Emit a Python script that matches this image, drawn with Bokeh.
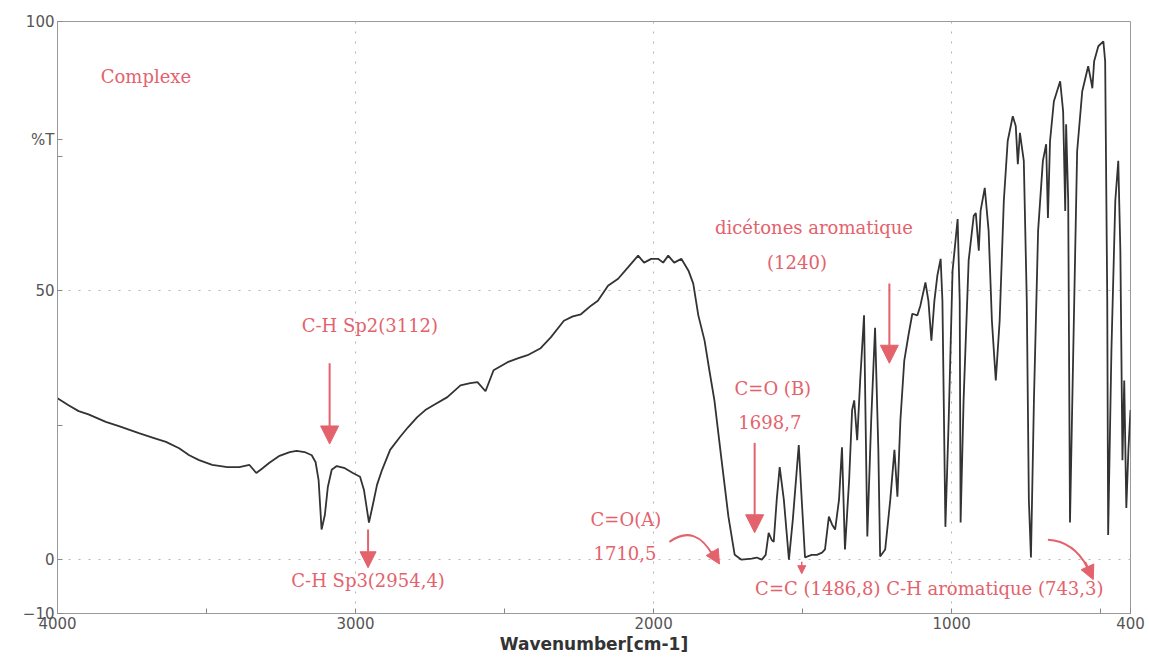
from bokeh.plotting import figure
from bokeh.models import Range1d, FixedTicker, Label, Arrow, NormalHead, ColumnDataSource
from bokeh.embed import file_html
from bokeh.resources import INLINE

# ---------------- data ----------------
wavenumber = [4000, 3963, 3929, 3896, 3838, 3794, 3727, 3676, 3636, 3592,
              3558, 3525, 3481, 3430, 3390, 3356, 3333, 3312, 3289, 3255,
              3221, 3198, 3171, 3147, 3134, 3124, 3114, 3103, 3093, 3080,
              3063, 3036, 3009, 2985, 2972, 2955, 2942, 2928, 2911, 2884,
              2851, 2824, 2793, 2766, 2739, 2692, 2648, 2615, 2591, 2564,
              2537, 2490, 2456, 2423, 2379, 2345, 2301, 2271, 2244, 2210,
              2187, 2153, 2119, 2086, 2052, 2032, 2008, 1985, 1968, 1951,
              1931, 1907, 1883, 1867, 1850, 1829, 1813, 1796, 1772, 1749,
              1728, 1705, 1671, 1654, 1637, 1624, 1614, 1604, 1597, 1587,
              1577, 1563, 1546, 1533, 1513, 1503, 1492, 1479, 1469, 1452,
              1435, 1425, 1412, 1401, 1391, 1378, 1368, 1358, 1344, 1334,
              1327, 1317, 1307, 1294, 1283, 1270, 1257, 1246, 1240, 1223,
              1206, 1192, 1182, 1172, 1159, 1145, 1132, 1115, 1105, 1088,
              1078, 1068, 1058, 1048, 1037, 1031, 1021, 1010, 997, 980,
              973, 970, 960, 943, 926, 919, 909, 903, 889, 876,
              865, 852, 839, 825, 812, 795, 785, 778, 771, 758,
              748, 741, 734, 724, 710, 694, 683, 677, 670, 657,
              636, 626, 619, 616, 609, 603, 592, 579, 562, 542,
              532, 528, 522, 508, 491, 485, 478, 475, 464, 451,
              441, 434, 427, 421, 414, 407, 400]
transmittance = [30.0, 28.7, 27.6, 27.0, 25.6, 24.8, 23.5, 22.6, 21.9, 20.7,
                 19.4, 18.5, 17.6, 17.2, 17.2, 17.6, 16.1, 17.0, 18.0, 19.3,
                 20.0, 20.2, 20.0, 19.4, 18.1, 14.8, 5.6, 8.3, 13.5, 16.7,
                 17.4, 17.0, 16.1, 15.4, 13.0, 6.9, 10.2, 13.9, 16.7, 20.4,
                 22.8, 24.6, 26.5, 27.8, 28.7, 30.2, 32.4, 32.8, 33.0, 31.3,
                 35.2, 36.7, 37.4, 38.0, 39.3, 41.3, 44.4, 45.2, 45.6, 47.2,
                 48.1, 50.9, 52.2, 54.3, 56.5, 55.2, 55.9, 55.9, 55.2, 56.5,
                 55.2, 55.9, 53.7, 51.3, 45.4, 40.7, 35.2, 29.6, 18.5, 8.0,
                 0.9, 0.0, 0.2, 0.4, 0.0, 0.9, 5.0, 3.7, 3.3, 11.1,
                 17.2, 11.1, 0.0, 7.4, 21.3, 11.1, 0.4, 0.7, 0.9, 0.9,
                 1.3, 1.9, 8.0, 6.5, 5.6, 11.1, 20.9, 1.9, 14.8, 27.8,
                 29.6, 22.2, 33.3, 45.4, 4.3, 25.9, 43.1, 20.4, 0.6, 1.9,
                 11.1, 20.4, 11.7, 25.9, 37.0, 41.7, 45.7, 45.4, 47.2, 51.5,
                 48.1, 40.7, 48.1, 52.8, 55.9, 48.1, 6.1, 25.9, 53.7, 63.3,
                 48.1, 6.9, 29.6, 55.6, 63.9, 64.4, 57.4, 64.8, 69.1, 61.1,
                 44.4, 33.3, 44.4, 66.7, 77.8, 82.4, 80.6, 73.5, 79.3, 74.1,
                 48.1, 11.1, 0.4, 29.6, 61.1, 74.1, 77.2, 63.5, 77.8, 85.2,
                 88.9, 83.3, 64.8, 80.9, 66.7, 6.9, 38.9, 75.9, 87.0, 91.7,
                 88.9, 87.6, 92.6, 95.4, 96.3, 92.6, 48.1, 4.6, 38.9, 66.7,
                 74.1, 57.4, 18.5, 33.3, 9.6, 20.4, 27.8]

x_major_ticks = [4000, 3000, 2000, 1000, 400]
x_minor_ticks = [3500, 2500, 1500, 500]
y_grid_ticks = [-10, 0, 50, 100]
y_label_ticks = [-10, 0, 50, 78, 100]
y_tick_labels = {78: "%T"}
y_minor_ticks = [25, 75]

sample_name = "Complexe"
band_texts = ["C-H Sp2(3112)", "C-H Sp3(2954,4)", "dicétones aromatique", "(1240)",
              "C=O (B)", "1698,7", "C=O(A)", "1710,5",
              "C=C (1486,8) C-H aromatique (743,3)"]

RED = "#e4626c"
GREY = "#555555"
SERIF = "DejaVu Serif"
SANS = "DejaVu Sans"

p = figure(frame_width=1073, frame_height=592,
           min_border_left=57, min_border_right=17, min_border_top=21, min_border_bottom=50,
           x_range=Range1d(4000, 400), y_range=Range1d(-10, 100),
           output_backend="svg", toolbar_location=None,
           background_fill_color="white", border_fill_color="white")

p.outline_line_color = "#9a9a9a"
p.outline_line_width = 1

for ax in (p.xaxis[0], p.yaxis[0]):
    ax.axis_line_color = "#9a9a9a"
    ax.major_tick_line_color = "#888888"
    ax.minor_tick_line_color = "#888888"
    ax.major_tick_in = 5
    ax.major_tick_out = 0
    ax.minor_tick_in = 5
    ax.minor_tick_out = 0
    ax.major_label_text_font = SANS
    ax.major_label_text_font_size = "15px"
    ax.major_label_text_color = GREY

p.xaxis.ticker = FixedTicker(ticks=x_major_ticks, minor_ticks=x_minor_ticks)
p.yaxis.ticker = FixedTicker(ticks=y_label_ticks, minor_ticks=y_minor_ticks)
p.yaxis.major_label_overrides = y_tick_labels
p.xgrid.ticker = FixedTicker(ticks=x_major_ticks)
p.ygrid.ticker = FixedTicker(ticks=y_grid_ticks)
p.xaxis.major_label_standoff = 3
p.yaxis.major_label_standoff = 3
p.xaxis.axis_label = "Wavenumber[cm-1]"
p.xaxis.axis_label_text_font = SANS
p.xaxis.axis_label_text_font_style = "bold"
p.xaxis.axis_label_text_font_size = "17px"
p.xaxis.axis_label_text_color = "#333333"
p.xaxis.axis_label_standoff = 2

for g in (p.xgrid[0], p.ygrid[0]):
    g.grid_line_color = "#b5b5b5"
    g.grid_line_dash = "2 8"
    g.grid_line_width = 1

src = ColumnDataSource(dict(x=wavenumber, y=transmittance))
p.line("x", "y", source=src, line_color="#333333", line_width=1.8)

def lab(x, y, t, align="center", size="18px"):
    p.add_layout(Label(x=x, y=y, text=t, text_font=SERIF, text_font_size=size,
                       text_color=RED, text_align=align, text_baseline="middle"))

lab(3855, 89.8, sample_name, align="left")
lab(2952, 43.5, band_texts[0])
lab(2958, -3.9, band_texts[1])
lab(1462, 61.7, band_texts[2])
lab(1519, 55.2, band_texts[3])
lab(1600, 31.9, band_texts[4])
lab(1610, 25.6, band_texts[5])
lab(2093, 7.4, band_texts[6])
lab(2096, 1.3, band_texts[7])
lab(1075, -5.3, band_texts[8])

def arrow(x0, y0, x1, y1, size=18, width=2):
    p.add_layout(Arrow(x_start=x0, y_start=y0, x_end=x1, y_end=y1,
                       line_color=RED, line_width=width,
                       end=NormalHead(size=size, fill_color=RED, line_color=RED)))

arrow(3087, 36.5, 3087, 21.5)
arrow(2958, 5.6, 2958, -1.5, size=16)
arrow(1209, 51.3, 1209, 36.5)
arrow(1661, 21.7, 1661, 5.0)
arrow(1503, -0.4, 1503, -2.6, size=8, width=1.5)

# curved arrows
p.quadratic(x0=1947, y0=3.3, x1=1799, y1=0.6, cx=1860, cy=6.8, line_color=RED, line_width=2)
arrow(1805, 1.6, 1779, -0.8, size=14)
p.quadratic(x0=677, y0=3.7, x1=545, y1=-1.4, cx=590, cy=3.4, line_color=RED, line_width=2)
arrow(552, -0.4, 525, -3.7, size=14)

open("out.html", "w").write(file_html(p, INLINE))
